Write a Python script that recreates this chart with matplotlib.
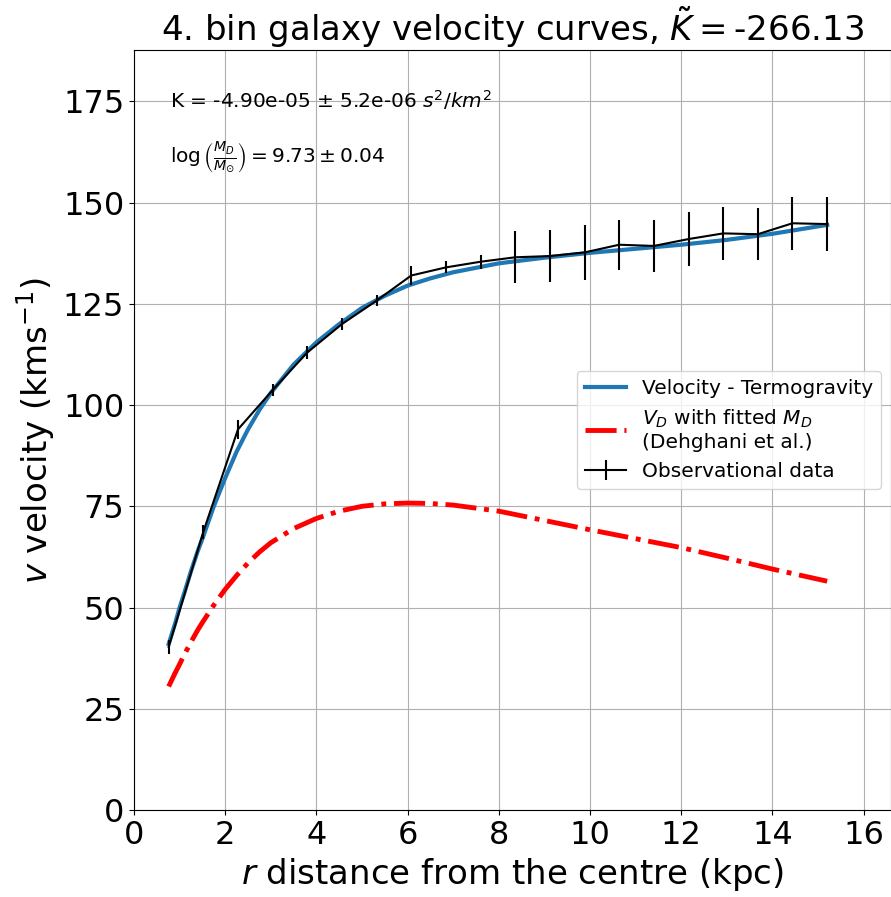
import matplotlib.pyplot as plt

# observational data (kpc, km/s)
r_obs = [0.76, 1.52, 2.28, 3.04, 3.80, 4.56, 5.32, 6.08, 6.84, 7.60,
         8.36, 9.12, 9.88, 10.64, 11.40, 12.16, 12.92, 13.68, 14.44, 15.20]
v_obs = [40.3, 68.7, 94.0, 103.7, 113.0, 120.0, 125.8, 132.0, 134.0, 135.4,
         136.5, 136.8, 137.7, 139.6, 139.3, 141.0, 142.4, 142.2, 144.9, 144.7]
v_err = [1.7, 1.8, 2.3, 1.5, 1.5, 1.5, 1.3, 2.3, 1.5, 1.7,
         6.4, 6.4, 6.7, 6.2, 6.5, 6.7, 6.5, 6.4, 6.6, 6.6]

# model curves
r_model = [0.76, 0.9, 1.0, 1.1, 1.25, 1.4, 1.5, 1.75, 2.0, 2.25, 2.5, 2.75,
           3.0, 3.5, 4.0, 4.5, 5.0, 5.5, 6.0, 6.5, 7.0, 8.0, 9.0, 10.0,
           11.0, 12.0, 13.0, 14.0, 15.2]
v_termo = [41.0, 46.0, 50.0, 53.5, 59.0, 64.0, 67.0, 75.0, 82.0, 88.5, 94.0,
           98.8, 103.0, 110.0, 115.5, 120.0, 124.0, 127.0, 129.5, 131.3, 132.8,
           135.0, 136.4, 137.6, 138.6, 139.6, 140.8, 142.3, 144.5]
v_disk = [30.5, 33.8, 36.0, 38.3, 41.5, 44.5, 46.3, 50.6, 54.5, 57.9, 61.0,
          63.7, 66.0, 69.5, 72.0, 73.8, 75.0, 75.6, 75.8, 75.7, 75.3, 73.8,
          71.5, 69.2, 67.0, 64.8, 62.2, 59.5, 56.5]

K_tilde = -266.13

fig = plt.figure(figsize=(8.91, 8.97), dpi=100)
ax = fig.add_axes([0.1504, 0.097, 0.8496, 0.8473])

ax.plot(r_model, v_termo, color='#1f77b4', lw=3, label='Velocity - Termogravity')
ax.plot(r_model, v_disk, 'r-.', lw=3.5,
        label='$V_D$ with fitted $M_D$\n(Dehghani et al.)')
ax.errorbar(r_obs, v_obs, yerr=v_err, color='black', lw=1.5,
            label='Observational data')

ax.text(0.048, 0.934, r'K = -4.90e-05 $\pm$ 5.2e-06 $s^2/km^2$',
        transform=ax.transAxes, fontsize=14.5, va='center')
ax.text(0.048, 0.858, r'$\log\left(\frac{M_D}{M_{\odot}}\right) = 9.73 \pm 0.04$',
        transform=ax.transAxes, fontsize=14.5, va='center')

ax.set_xlim(0, 16.6)
ax.set_ylim(0, 187.7)
ax.set_xticks(range(0, 17, 2))
ax.set_yticks(range(0, 176, 25))
ax.tick_params(labelsize=23)
ax.grid(True)
ax.set_xlabel('$r$ distance from the centre (kpc)', fontsize=24.5)
ax.set_ylabel('$v$ velocity (kms$^{-1}$)', fontsize=24.5)
ax.set_title(r'4. bin galaxy velocity curves, $\tilde{K} = $%.2f' % K_tilde, fontsize=24.5)
ax.legend(loc='center right', fontsize=14.5)

plt.savefig('out.png', dpi=100)
